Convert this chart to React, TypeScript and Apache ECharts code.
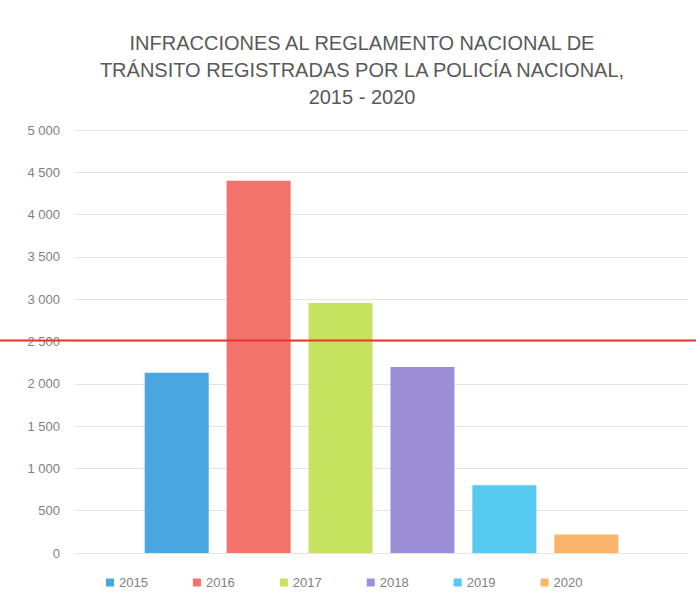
import React, { useEffect, useRef } from "react";
import * as echarts from "echarts";

const titleLines = [
  "INFRACCIONES AL REGLAMENTO NACIONAL DE",
  "TRÁNSITO REGISTRADAS POR LA POLICÍA NACIONAL,",
  "2015 - 2020",
];
const years = ["2015", "2016", "2017", "2018", "2019", "2020"];
const values = [2130, 4400, 2955, 2200, 800, 220];
const colors = ["#4aa6e0", "#f2736a", "#c6e25f", "#9d8fd7", "#55c9ef", "#f8b46a"];
const yTicks = [0, 500, 1000, 1500, 2000, 2500, 3000, 3500, 4000, 4500, 5000];
const redLineValue = 2500;

const fmt = (v: number) => String(v).replace(/\B(?=(\d{3})+(?!\d))/g, " ");

export default function App() {
  const ref = useRef<HTMLDivElement>(null);
  useEffect(() => {
    if (!ref.current) return;
    const chart = echarts.init(ref.current, undefined, { renderer: "svg" });
    const font = "'Liberation Sans', Arial, sans-serif";
    chart.setOption({
      animation: false,
      backgroundColor: "#ffffff",
      title: {
        text: titleLines.join("\n"),
        left: 357,
        textAlign: "center",
        top: 24,
        textStyle: {
          fontFamily: font,
          fontSize: 20,
          fontWeight: "normal",
          color: "#595959",
          lineHeight: 27,
        },
      },
      legend: {
        data: years,
        left: 101,
        top: 571,
        icon: "rect",
        itemWidth: 8,
        itemHeight: 8,
        itemGap: 45,
        textStyle: { fontFamily: font, fontSize: 13, color: "#7f7f7f" },
      },
      grid: { left: 75, right: 8, top: 130, bottom: 46 },
      xAxis: {
        type: "category",
        data: [""],
        axisLine: { show: true, lineStyle: { color: "#e4e4e4" } },
        axisTick: { show: false },
        axisLabel: { show: false },
      },
      yAxis: {
        type: "value",
        min: yTicks[0],
        max: yTicks[yTicks.length - 1],
        interval: 500,
        axisLine: { show: false },
        axisTick: { show: false },
        splitLine: { lineStyle: { color: "#e4e4e4", width: 1 } },
        axisLabel: {
          margin: 15,
          fontFamily: font,
          fontSize: 13,
          color: "#7f7f7f",
          formatter: (v: number) => fmt(v),
        },
      },
      series: years.map((y, i) => ({
        name: y,
        type: "bar",
        data: [values[i]],
        barWidth: 64,
        barGap: "28%",
        itemStyle: { color: colors[i] },
      })),
    });
    const yPix = chart.convertToPixel({ yAxisIndex: 0 }, redLineValue) as number;
    chart.setOption({
      graphic: [
        {
          type: "line",
          shape: { x1: 0, y1: yPix - 1, x2: 696, y2: yPix - 1 },
          style: { stroke: "#e8342a", lineWidth: 2 },
          z: 100,
        },
      ],
    });
    return () => chart.dispose();
  }, []);
  return <div ref={ref} style={{ width: 696, height: 599, position: "absolute", left: 0, top: 0 }} />;
}
